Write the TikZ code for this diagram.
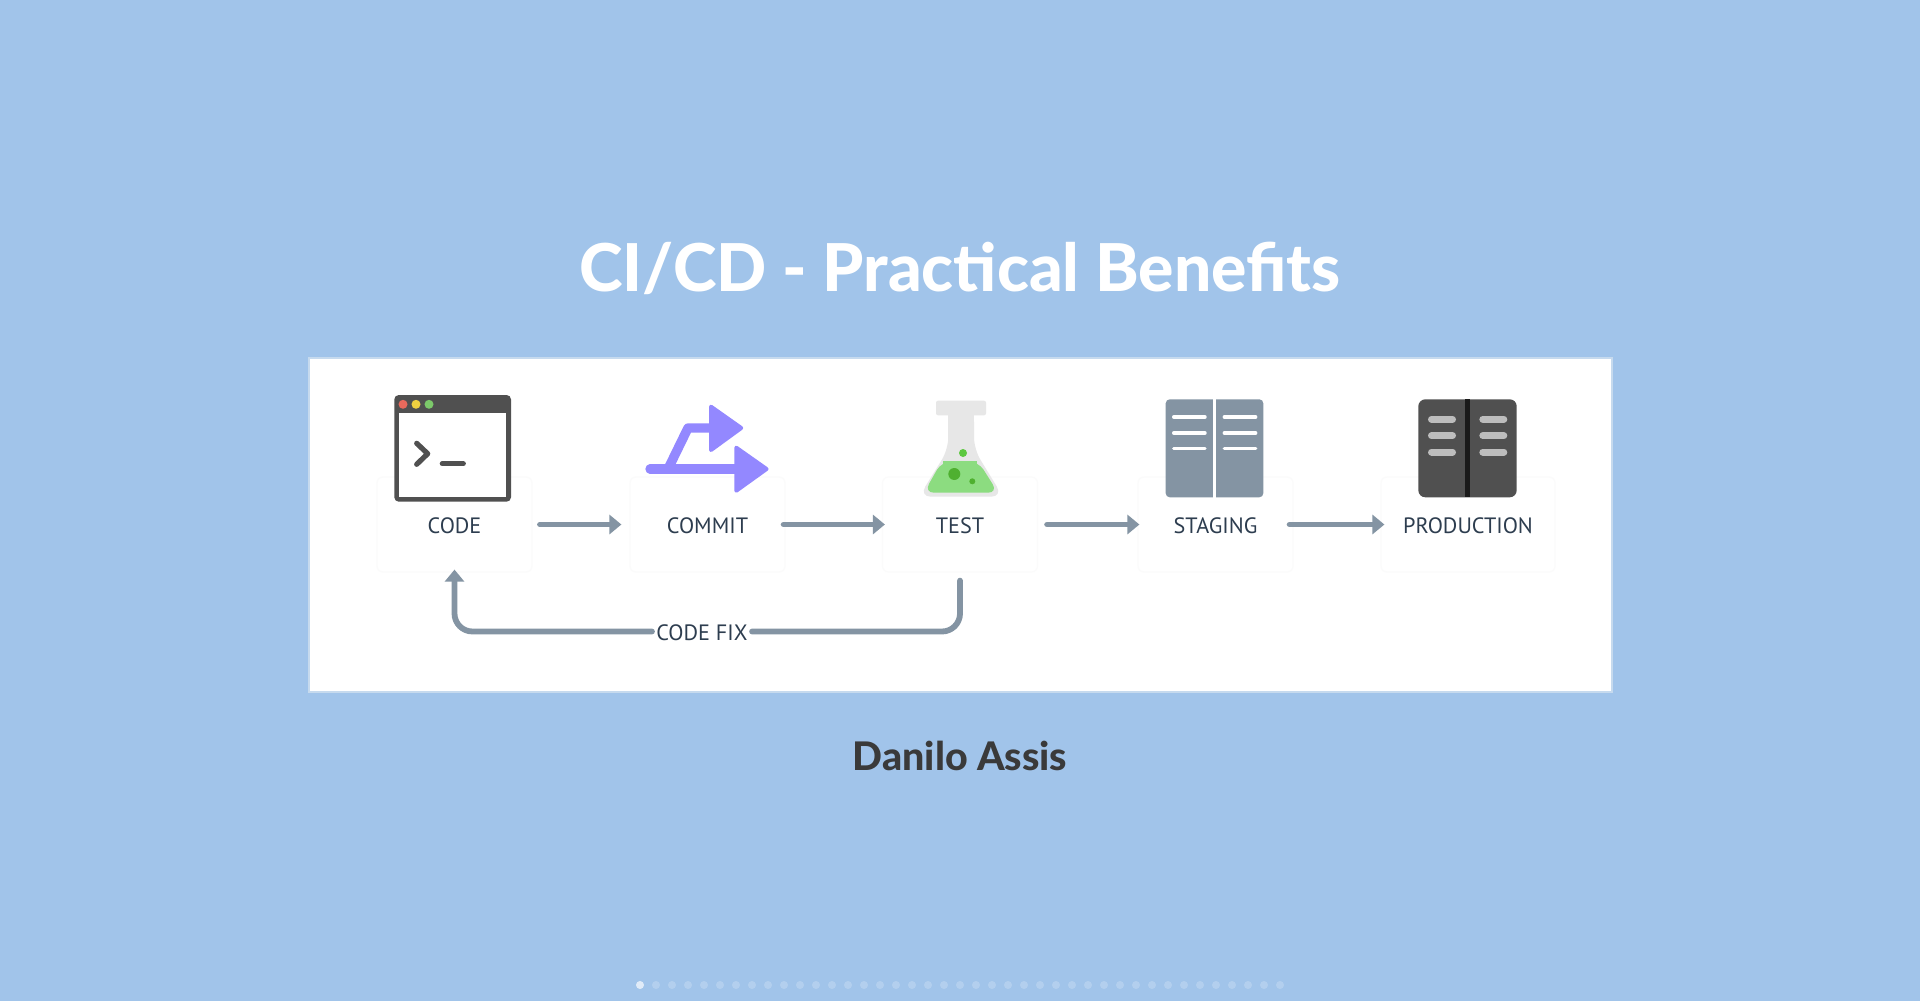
\documentclass[tikz,border=0pt]{standalone}
\usepackage{fontspec}
\setmainfont{Lato}[BoldFont={Lato Heavy}]
\newfontfamily\labelfont{PT Sans}
\usetikzlibrary{arrows.meta}
\definecolor{bgblue}{HTML}{A1C4EA}
\definecolor{panelborder}{HTML}{C6DAEE}
\definecolor{boxedge}{HTML}{FBFBFB}
\definecolor{flowgray}{HTML}{8494A3}
\definecolor{labelink}{HTML}{2D3D4F}
\definecolor{darkgray}{HTML}{505050}
\definecolor{commitpurple}{HTML}{9388FF}
\definecolor{flaskgray}{HTML}{E7E7E7}
\definecolor{liquidgreen}{HTML}{8CDC80}
\definecolor{dotred}{HTML}{E8695C}
\definecolor{dotyellow}{HTML}{F0D040}
\definecolor{dotgreen}{HTML}{7CC96A}
\definecolor{bubblelight}{HTML}{5CC840}
\definecolor{bubbledark}{HTML}{4FB030}
\definecolor{spineblack}{HTML}{1A1A1A}
\definecolor{slotgray}{HTML}{BDBDBD}
\definecolor{authorink}{HTML}{3A3A3A}
\tikzset{
  labeltext/.style={font=\labelfont\fontsize{11.1}{13}\selectfont,text=labelink,text height=8.6pt,text depth=0pt},
  stagebox/.style={labeltext,draw=boxedge,line width=0.6pt,rounded corners=3pt,minimum width=77.5pt,minimum height=47.5pt,inner sep=0pt},
  flow/.style={draw=flowgray,line width=2.9pt,line cap=round},
  flowarrow/.style={flow,-{Triangle[length=6pt,width=9.5pt]}},
  iconline/.style={line cap=round,line join=round}
}
\begin{document}
\begin{tikzpicture}[x=0.5pt,y=-0.5pt]
\useasboundingbox (0,0) rectangle (1920,1001);
\fill[bgblue] (0,0) rectangle (1920,1001);
% title
\node[name=title,anchor=base,text=white,font=\bfseries\fontsize{33}{38}\selectfont,inner sep=0pt] at (960,291) {CI/CD - Practical Benefits};
% panel
\draw[panelborder,fill=white,line width=1pt] (309,357.5) rectangle (1612,692);
% stage boxes
\node[stagebox] (code) at (454.5,524.5) {CODE};
\node[stagebox] (commit) at (707.5,524.5) {COMMIT};
\node[stagebox] (test) at (960,524.5) {TEST};
\node[stagebox] (staging) at (1215.5,524.5) {STAGING};
\node[stagebox,minimum width=87pt] (production) at (1468,524.5) {PRODUCTION};
\node[labeltext,name=fix,inner xsep=2pt,inner ysep=0pt] at (702,631.5) {CODE FIX};
% connectors
\draw[flowarrow,shorten <=3.7pt,shorten >=4pt] (code.east) -- (commit.west);
\draw[flowarrow,shorten <=-1pt,shorten >=-1.5pt] (commit.east) -- (test.west);
\draw[flowarrow,shorten <=4.5pt,shorten >=-1pt] (test.east) -- (staging.west);
\draw[flowarrow,shorten <=-2pt,shorten >=-2pt] (staging.east) -- (production.west);
\draw[flow,rounded corners=9pt,shorten <=4pt] (test.south) |- (fix.east);
\draw[flowarrow,rounded corners=9pt,shorten >=-1.5pt] (fix.west) -| (code.south);
% code icon
\fill[darkgray,rounded corners=2.2pt] (394.3,395) rectangle (511,501.7);
\fill[white] (399.3,413) rectangle (506.3,497);
\fill[dotred] (403,404.3) circle[radius=4.5];
\fill[dotyellow] (416,404.3) circle[radius=4.5];
\fill[dotgreen] (429,404.3) circle[radius=4.5];
\draw[darkgray,line width=2.6pt,iconline] (416.7,443.3) -- (427.7,453.7) -- (416.7,464.3);
\draw[darkgray,line width=2.6pt,iconline] (442.3,463.7) -- (463.3,463.7);
% commit icon
\draw[commitpurple,line width=4.7pt,line cap=round] (650,469) -- (738,469);
\draw[commitpurple,line width=4.7pt,line join=round] (668,469) -- (688,428) -- (715,428);
\filldraw[commitpurple,line width=2pt,line join=round] (736.3,447.7) -- (766.5,469) -- (736.3,490.7) -- cycle;
\filldraw[commitpurple,line width=2pt,line join=round] (711,406.7) -- (741.2,428) -- (711,450) -- cycle;
% flask icon
\fill[flaskgray,rounded corners=1pt] (936,400.7) rectangle (986,415.3);
\fill[flaskgray,rounded corners=6pt] (948.3,410) -- (974,410) -- (974,449.3) -- (1003,496.7) -- (919,496.7) -- (948.3,449.3) -- cycle;
\fill[flaskgray] (948.3,410) rectangle (974,440);
\fill[liquidgreen,rounded corners=5pt] (941.7,461.3) -- (978.3,461.3) -- (998,492.7) -- (924,492.7) -- cycle;
\fill[liquidgreen] (943,461.3) rectangle (977,466);
\fill[bubblelight] (963,453) circle[radius=4];
\fill[bubbledark] (954.3,474) circle[radius=6];
\fill[bubbledark] (972.3,481.3) circle[radius=3];
% staging icon
\fill[flowgray,rounded corners=2pt] (1165.7,399.3) rectangle (1263.3,497.3);
\fill[white] (1212.7,399) rectangle (1216.3,497.5);
\foreach \yy in {417,433,448.7}{
  \draw[white,line width=1.7pt,line cap=round] (1173.7,\yy) -- (1205,\yy);
  \draw[white,line width=1.7pt,line cap=round] (1224.3,\yy) -- (1255.7,\yy);
}
% production icon
\fill[darkgray,rounded corners=3.5pt] (1418.3,399.3) rectangle (1516.7,497.3);
\fill[spineblack] (1465,399.3) rectangle (1470,497.3);
\foreach \yy in {419.3,435.7,452}{
  \draw[slotgray,line width=3.5pt,line cap=round] (1431.5,\yy) -- (1452.5,\yy);
  \draw[slotgray,line width=3.5pt,line cap=round] (1482.8,\yy) -- (1503.8,\yy);
}
% author
\node[name=author,anchor=base,text=authorink,font=\bfseries\fontsize{19.7}{23}\selectfont,inner sep=0pt] at (960,770) {Danilo Assis};
% pager dots
\foreach \i in {0,...,40}{
  \fill[white,opacity=0.2] ({640+16*\i},985) circle[radius=4];
}
\fill[white,opacity=0.6] (640,985) circle[radius=4];
\end{tikzpicture}
\end{document}
